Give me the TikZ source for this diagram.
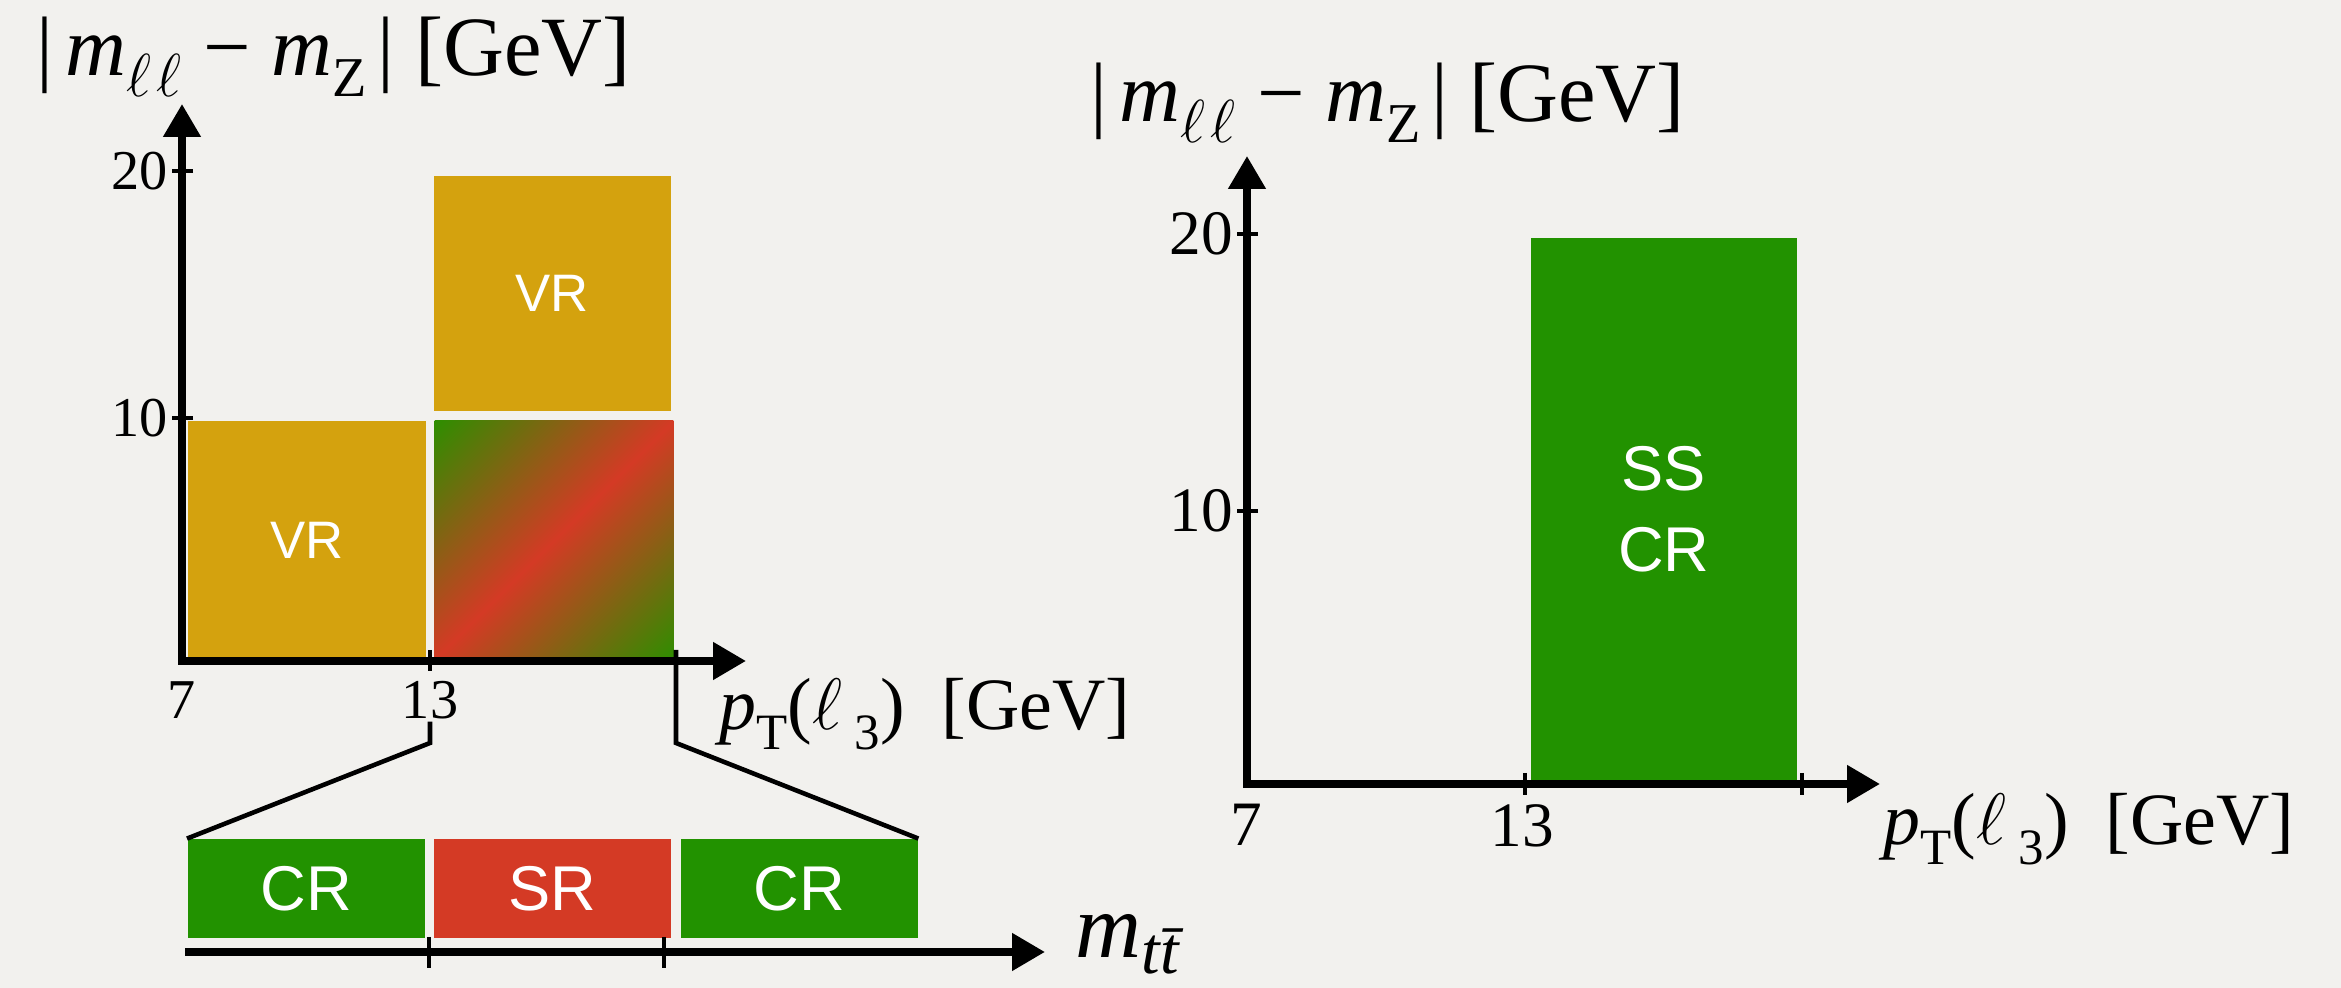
\documentclass[tikz,border=0pt]{standalone}
\usepackage{fontspec}
\setmainfont{Liberation Serif}
\setsansfont{Liberation Sans}
\usetikzlibrary{arrows.meta,calc}

\definecolor{paper}{HTML}{F2F1EE}
\definecolor{vrgold}{HTML}{D4A20E}
\definecolor{crgreen}{HTML}{229200}
\definecolor{fadegreen}{HTML}{2E8E00}
\definecolor{srred}{HTML}{D43A25}

% lowered subscript of a given size
\newcommand{\lsub}[3]{\raisebox{-#1}{\fontsize{#2}{#2}\selectfont #3}}
\newcommand{\mllz}{|\hspace{3.5pt}\textit{m}\lsub{5.7pt}{17}{$\ell\hspace{1.5pt}\ell$}\hspace{6pt}−\hspace{6pt}\textit{m}\lsub{5.7pt}{16}{Z}\hspace{3pt}|\hspace{6pt}[GeV]}
\newcommand{\ptlep}{\textit{p}\lsub{5.5pt}{14.5}{T}($\ell$\,\lsub{5.5pt}{14.5}{3})\ \ [GeV]}
\newcommand{\mtop}{\textit{m}\lsub{4.3pt}{19}{\textit{t\=t}}}

\begin{document}
\begin{tikzpicture}[
  axis/.style={line width=2.2pt,line cap=rect,-{Triangle[length=0.33cm,width=0.36cm]}},
  tick/.style={line width=1.3pt},
  zoomline/.style={line width=1.3pt},
  region/.style={anchor=south west,inner sep=0pt,text=white,align=center,
    font=\sffamily\fontsize{18}{23}\selectfont},
  smallreg/.style={font=\sffamily\fontsize{15}{18}\selectfont},
  ticklabel/.style={inner sep=0.5pt,font=\fontsize{16}{18}\selectfont},
  bigtick/.style={inner sep=0.5pt,font=\fontsize{18}{20}\selectfont},
  axlabel/.style={anchor=base west,inner sep=0pt,font=\fontsize{24}{28}\selectfont},
  ptlabel/.style={anchor=base west,inner sep=0pt,font=\fontsize{21}{24}\selectfont},
]
\fill[paper] (0,0) rectangle (23.41,9.88);

% left plane: pT(l3) vs |mll - mZ|, with the mtt split below
\node[region,smallreg,fill=vrgold,minimum width=2.38cm,minimum height=2.39cm] (vrlow) at (1.87,3.27) {VR};
\node[region,minimum width=2.38cm,minimum height=2.39cm] (sigbox) at (4.34,3.27) {};
\begin{scope}
  \clip (sigbox.south west) rectangle (sigbox.north east);
  \shade[transform canvas={rotate around={45:(sigbox.center)}},
    top color=fadegreen,bottom color=fadegreen,middle color=srred]
    ($(sigbox.center)+(-1.7,-1.69)$) rectangle ($(sigbox.center)+(1.7,1.69)$);
\end{scope}
\node[region,smallreg,fill=vrgold,minimum width=2.37cm,minimum height=2.35cm] (vrhigh) at (4.33,5.76) {VR};

\coordinate (o1) at (1.82,3.27);
\draw[axis] (o1) -- (1.82,8.84);
\draw[axis] (o1) -- (7.46,3.27);
\draw[tick] (1.93,8.17) -- (1.72,8.17) node[ticklabel,left] (l20) {20};
\draw[tick] (1.93,5.70) -- (1.72,5.70) node[ticklabel,left] (l10) {10};
\draw[tick] (4.30,3.38) -- (4.30,3.17);
\node[ticklabel,anchor=north] (l7) at (1.82,3.09) {7};
\node[ticklabel,anchor=north] (l13) at (4.30,3.09) {13};
\node[axlabel] (ylab1) at (0.36,9.12) {\mllz};
\node[ptlabel] (xlab1) at (7.19,2.58) {\ptlep};

\node[region,fill=crgreen,minimum width=2.37cm,minimum height=0.99cm] (crleft) at (1.87,0.49) {CR};
\node[region,fill=srred,minimum width=2.37cm,minimum height=0.99cm] (srmid) at (4.33,0.49) {SR};
\node[region,fill=crgreen,minimum width=2.37cm,minimum height=0.99cm] (crright) at (6.80,0.49) {CR};

\coordinate (zbend) at (0,2.45);
\coordinate (tkend) at (6.76,3.38);
\draw[zoomline] (l13.south) -- (l13.south |- zbend) -- (crleft.north west);
\draw[zoomline] (tkend) -- (tkend |- zbend) -- (crright.north east);

\draw[axis] (1.89,0.36) -- (10.45,0.36);
\draw[tick] (4.29,0.51) -- (4.29,0.20);
\draw[tick] (6.64,0.51) -- (6.64,0.20);
\node[anchor=base west,inner sep=0pt,font=\fontsize{26}{30}\selectfont] (mlab) at (10.75,0.30) {\mtop};

% right plane: same-sign control region
\node[region,fill=crgreen,minimum width=2.66cm,minimum height=5.42cm] (sscr) at (15.30,2.07) {SS\\CR};

\coordinate (o2) at (12.47,2.04);
\draw[axis] (o2) -- (12.47,8.32);
\draw[axis] (o2) -- (18.80,2.04);
\draw[tick] (12.58,7.54) -- (12.37,7.54) node[bigtick,left] (r20) {20};
\draw[tick] (12.58,4.77) -- (12.37,4.77) node[bigtick,left] (r10) {10};
\draw[tick] (15.25,2.15) -- (15.25,1.93);
\draw[tick] (18.02,2.15) -- (18.02,1.93);
\node[bigtick,anchor=north] (r7) at (12.46,1.86) {7};
\node[bigtick,anchor=north] (r13) at (15.22,1.86) {13};
\node[axlabel] (ylab2) at (10.90,8.66) {\mllz};
\node[ptlabel] (xlab2) at (18.83,1.43) {\ptlep};
\end{tikzpicture}
\end{document}
